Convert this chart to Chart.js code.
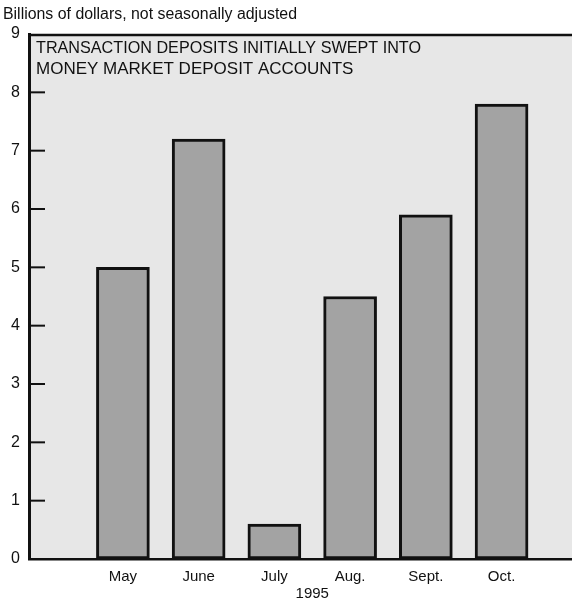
<!DOCTYPE html>
<html>
<head>
<meta charset="utf-8">
<script src="https://cdn.jsdelivr.net/npm/chart.js@4"></script>
<style>
  html, body { margin: 0; padding: 0; background: #fff; }
  #wrap { width: 572px; height: 606px; }
</style>
</head>
<body>
<div id="wrap"><canvas id="sweepChart" width="572" height="606"></canvas></div>
<script>
const months = ['May', 'June', 'July', 'Aug.', 'Sept.', 'Oct.'];
const sweeps = [5.0, 7.2, 0.6, 4.5, 5.9, 7.8];
const yTicks = [0, 1, 2, 3, 4, 5, 6, 7, 8, 9];
const yearLabel = '1995';
const unitsNote = 'Billions of dollars, not seasonally adjusted';
const titleLines = ['TRANSACTION DEPOSITS INITIALLY SWEPT INTO', 'MONEY MARKET DEPOSIT ACCOUNTS'];

const narrow = "'Liberation Sans Narrow', 'Arial Narrow', 'Liberation Sans', sans-serif";

// background, frame, inner tick marks and the texts
const decor = {
  id: 'decor',
  beforeDraw(chart) {
    const { ctx, chartArea: a } = chart;
    ctx.save();
    ctx.fillStyle = '#e7e7e7';
    ctx.fillRect(a.left, a.top, a.right - a.left, a.bottom - a.top);
    ctx.restore();
  },
  afterDraw(chart) {
    const { ctx, chartArea: a, scales } = chart;
    ctx.save();
    ctx.strokeStyle = '#111';
    ctx.lineWidth = 2.5;
    ctx.beginPath();
    ctx.moveTo(a.left - 1, a.top + 1);
    ctx.lineTo(a.right, a.top + 1);
    ctx.stroke();

    ctx.lineWidth = 2;
    yTicks.slice(1, -1).forEach(v => {
      const y = scales.y.getPixelForValue(v);
      ctx.beginPath();
      ctx.moveTo(a.left, y);
      ctx.lineTo(a.left + 16, y);
      ctx.stroke();
    });

    ctx.fillStyle = '#111';
    ctx.textBaseline = 'middle';
    ctx.font = '16px ' + narrow;
    ctx.fillText(unitsNote, 3, 15, 294);

    ctx.font = "17px 'Liberation Sans', Arial, sans-serif";
    ctx.fillText(titleLines[0], 36, 48, 385);
    ctx.fillText(titleLines[1], 36, 69, 338);

    ctx.font = '15px ' + narrow;
    ctx.textAlign = 'center';
    ctx.fillText(yearLabel, scales.x.getPixelForValue(3.5), 594);
    ctx.restore();
  }
};

new Chart(document.getElementById('sweepChart').getContext('2d'), {
  type: 'bar',
  data: {
    datasets: [{
      data: sweeps.map((v, i) => ({ x: i + 1, y: v })),
      backgroundColor: '#a3a3a3',
      borderColor: '#111',
      borderWidth: 3,
      borderSkipped: false,
      barThickness: 53
    }]
  },
  options: {
    responsive: false,
    animation: false,
    layout: { padding: { top: 34, right: 0, left: 0, bottom: 0 } },
    plugins: { legend: { display: false }, tooltip: { enabled: false } },
    scales: {
      x: {
        type: 'linear',
        offset: false,
        min: -0.24,
        max: 6.93,
        afterBuildTicks: s => { s.ticks = months.map((m, i) => ({ value: i + 1 })); },
        afterFit: s => { s.height = 47; },
        grid: { display: false, drawTicks: false },
        border: { display: true, color: '#111', width: 2.5 },
        ticks: {
          autoSkip: false,
          maxRotation: 0,
          padding: 9,
          color: '#111',
          font: { family: narrow, size: 15 },
          callback: v => months[v - 1] || ''
        }
      },
      y: {
        min: 0,
        max: 9,
        afterBuildTicks: s => { s.ticks = yTicks.map(v => ({ value: v })); },
        afterFit: s => { s.width = 29; },
        grid: { display: false, drawTicks: false },
        border: { display: true, color: '#111', width: 3 },
        ticks: {
          padding: 9,
          color: '#111',
          font: { family: narrow, size: 16 }
        }
      }
    }
  },
  plugins: [decor]
});
</script>
</body>
</html>
